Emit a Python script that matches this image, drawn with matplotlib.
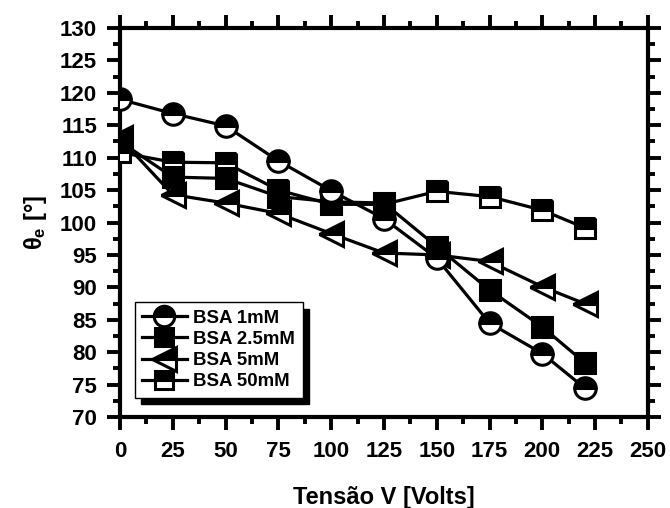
import matplotlib
matplotlib.use("Agg")
import matplotlib.pyplot as plt
from matplotlib.ticker import MultipleLocator

plt.rcParams['font.family'] = ['Liberation Sans', 'DejaVu Sans']
plt.rcParams['font.weight'] = 'bold'
plt.rcParams['mathtext.fontset'] = 'custom'
plt.rcParams['mathtext.rm'] = 'Liberation Sans:bold'
plt.rcParams['mathtext.it'] = 'Liberation Sans:bold'
plt.rcParams['mathtext.bf'] = 'Liberation Sans:bold'

voltage = [0, 25, 50, 75, 100, 125, 150, 175, 200, 220]
bsa_1mM = [119.0, 116.8, 114.9, 109.5, 104.9, 100.6, 94.5, 84.5, 79.8, 74.5]
bsa_2_5mM = [112.5, 107.0, 106.8, 104.0, 103.2, 103.0, 96.3, 89.6, 83.9, 78.4]
bsa_5mM = [113.0, 104.3, 103.0, 101.4, 98.3, 95.3, 95.0, 94.0, 90.1, 87.5]
bsa_50mM = [110.8, 109.3, 109.2, 105.0, 102.8, 102.8, 104.8, 104.0, 101.9, 99.2]

labels = ['BSA 1mM', 'BSA 2.5mM', 'BSA 5mM', 'BSA 50mM']

fig = plt.figure(figsize=(6.7, 5.08), dpi=100)
ax = fig.add_axes([0.179, 0.179, 0.788, 0.766])

common = dict(color='black', lw=2.3, mec='black', mfc='black', mew=2.2,
              markerfacecoloralt='white')
h5, = ax.plot(voltage, bsa_5mM, marker='<', ms=17.5, fillstyle='top', zorder=2, **common)
h50, = ax.plot(voltage, bsa_50mM, marker='s', ms=14, fillstyle='top', zorder=3, **common)
h25, = ax.plot(voltage, bsa_2_5mM, marker='s', ms=14, fillstyle='full', zorder=4, **common)
h1, = ax.plot(voltage, bsa_1mM, marker='o', ms=15.5, fillstyle='top', zorder=5, **common)

ax.set_xlim(0, 250)
ax.set_ylim(70, 130)
ax.xaxis.set_major_locator(MultipleLocator(25))
ax.xaxis.set_minor_locator(MultipleLocator(12.5))
ax.yaxis.set_major_locator(MultipleLocator(5))
ax.yaxis.set_minor_locator(MultipleLocator(2.5))

for s in ax.spines.values():
    s.set_linewidth(3)
ax.tick_params(which='both', direction='out', top=True, right=True,
               labelsize=16)
ax.tick_params(axis='x', pad=8)
ax.tick_params(axis='y', pad=7)
ax.tick_params(which='major', length=9.5, width=2.8)
ax.tick_params(which='minor', length=5, width=2.8)
for lab in ax.get_xticklabels() + ax.get_yticklabels():
    lab.set_fontweight('bold')

ax.set_xlabel('Tensão V [Volts]', fontsize=17, fontweight='bold', labelpad=17)
ax.set_ylabel(r'$\theta_e$ [°]', fontsize=17, fontweight='bold', labelpad=8)

leg = ax.legend([h1, h25, h5, h50], labels, loc='lower left',
                bbox_to_anchor=(0.028, 0.05), borderaxespad=0,
                frameon=True, fancybox=False,
                shadow={'color': 'black', 'alpha': 1, 'ox': 4.5, 'oy': -4.5},
                prop={'weight': 'bold', 'size': 13.4}, handlelength=2.4,
                handletextpad=0.35, labelspacing=0.22, borderpad=0.4,
                markerscale=0.95)
leg.get_frame().set_edgecolor('black')
leg.get_frame().set_linewidth(1)
leg.set_zorder(10)

fig.savefig('out.png', dpi=100)
